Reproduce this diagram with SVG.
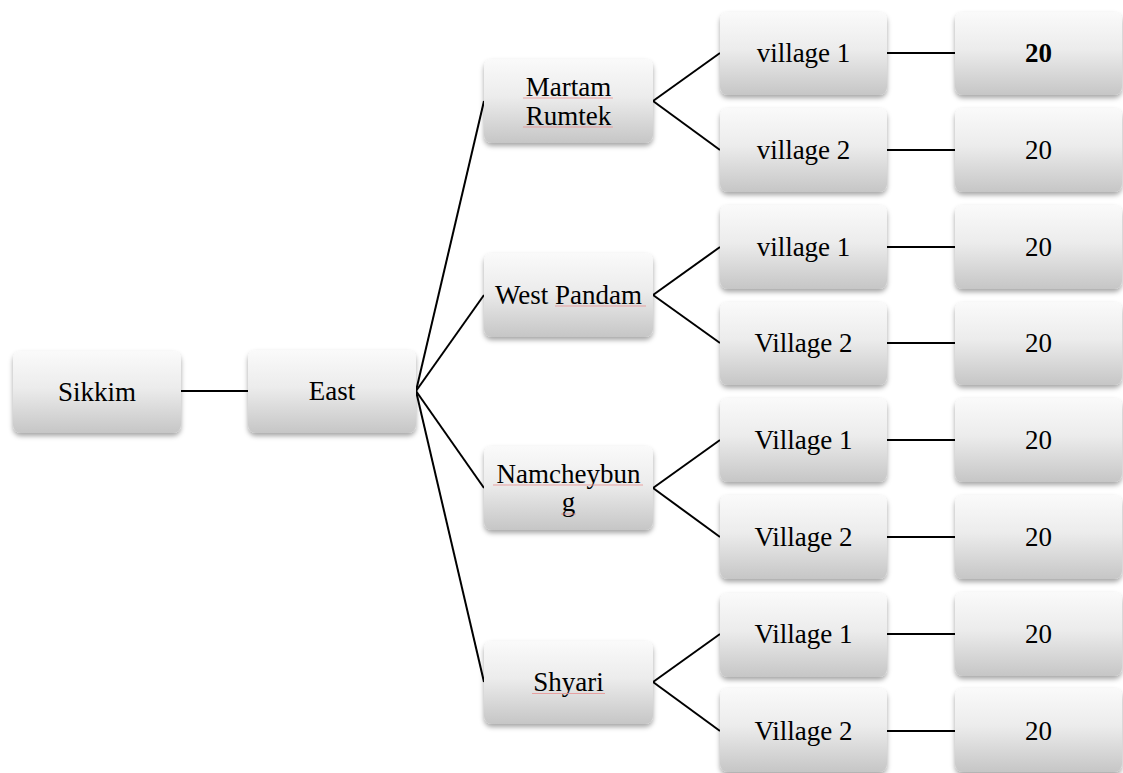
<svg xmlns="http://www.w3.org/2000/svg" width="1123" height="773" viewBox="0 0 1123 773">
<style>
.box{fill:url(#g);filter:url(#sh)}
text{font-family:'Liberation Serif','Times New Roman',Times,serif;font-size:27px;fill:#000;text-anchor:middle}
.b{font-weight:bold}
.c line{stroke:#000;stroke-width:2}
.sq{stroke:#e89090;stroke-width:1;fill:none;opacity:0.8}
</style>
<defs>
<linearGradient id="g" x1="0" y1="0" x2="0" y2="1">
<stop offset="0" stop-color="#fafafa"/>
<stop offset="0.45" stop-color="#ececec"/>
<stop offset="1" stop-color="#c6c6c6"/>
</linearGradient>
<filter id="sh" x="-10%" y="-10%" width="120%" height="130%">
<feDropShadow dx="0" dy="3" stdDeviation="2.5" flood-color="#000" flood-opacity="0.35"/>
</filter>
</defs>
<rect width="1123" height="773" fill="#fff"/>
<g class="c">
<line x1="181" y1="391" x2="248" y2="391"/>
<line x1="416" y1="391" x2="484" y2="101"/>
<line x1="416" y1="391" x2="484" y2="295"/>
<line x1="416" y1="391" x2="484" y2="488"/>
<line x1="416" y1="391" x2="484" y2="682"/>
<line x1="653" y1="101" x2="720" y2="53"/>
<line x1="653" y1="101" x2="720" y2="150"/>
<line x1="653" y1="295" x2="720" y2="247"/>
<line x1="653" y1="295" x2="720" y2="343"/>
<line x1="653" y1="488" x2="720" y2="440"/>
<line x1="653" y1="488" x2="720" y2="537"/>
<line x1="653" y1="682" x2="720" y2="634"/>
<line x1="653" y1="682" x2="720" y2="731"/>
<line x1="887" y1="53" x2="955" y2="53"/>
<line x1="887" y1="150" x2="955" y2="150"/>
<line x1="887" y1="247" x2="955" y2="247"/>
<line x1="887" y1="343" x2="955" y2="343"/>
<line x1="887" y1="440" x2="955" y2="440"/>
<line x1="887" y1="537" x2="955" y2="537"/>
<line x1="887" y1="634" x2="955" y2="634"/>
<line x1="887" y1="731" x2="955" y2="731"/>
</g>
<g font-family="Liberation Serif, serif" font-size="27">
<g id="sikkim"><rect class="box" x="13" y="351" width="168" height="82" rx="8"/><text x="97" y="401">Sikkim</text></g>
<g id="east"><rect class="box" x="248" y="350" width="168" height="83" rx="8"/><text x="332" y="400">East</text></g>
<g id="martam"><rect class="box" x="484" y="59" width="169" height="84" rx="8"/><text x="568.5" y="95.5">Martam</text><text x="568.5" y="124.5">Rumtek</text><line class="sq" x1="523" y1="98" x2="613" y2="98"/><line class="sq" x1="523" y1="127" x2="613" y2="127"/></g>
<g id="westpandam"><rect class="box" x="484" y="253" width="169" height="84" rx="8"/><text x="568.5" y="304">West Pandam</text><line class="sq" x1="555" y1="306" x2="646" y2="306"/></g>
<g id="namcheybung"><rect class="box" x="484" y="446" width="169" height="84" rx="8"/><text x="568.5" y="482.5">Namcheybun</text><text x="568.5" y="511">g</text><line class="sq" x1="493" y1="485" x2="643" y2="485"/><line class="sq" x1="561" y1="514" x2="576" y2="514"/></g>
<g id="shyari"><rect class="box" x="484" y="641" width="169" height="83" rx="8"/><text x="568.5" y="691">Shyari</text><line class="sq" x1="532" y1="693.5" x2="605" y2="693.5"/></g>
<g id="v1a"><rect class="box" x="720" y="12" width="167" height="83" rx="8"/><text x="803.5" y="62">village 1</text></g>
<g id="v2a"><rect class="box" x="720" y="108" width="167" height="84" rx="8"/><text x="803.5" y="159">village 2</text></g>
<g id="v1b"><rect class="box" x="720" y="205" width="167" height="84" rx="8"/><text x="803.5" y="256">village 1</text></g>
<g id="v2b"><rect class="box" x="720" y="302" width="167" height="83" rx="8"/><text x="803.5" y="352">Village 2</text></g>
<g id="v1c"><rect class="box" x="720" y="398" width="167" height="84" rx="8"/><text x="803.5" y="449">Village 1</text></g>
<g id="v2c"><rect class="box" x="720" y="495" width="167" height="84" rx="8"/><text x="803.5" y="546">Village 2</text></g>
<g id="v1d"><rect class="box" x="720" y="593" width="167" height="84" rx="8"/><text x="803.5" y="643">Village 1</text></g>
<g id="v2d"><rect class="box" x="720" y="688" width="167" height="84" rx="8"/><text x="803.5" y="740">Village 2</text></g>
<g id="n1"><rect class="box" x="955" y="12" width="167" height="83" rx="8"/><text class="b" x="1038.5" y="62">20</text></g>
<g id="n2"><rect class="box" x="955" y="108" width="167" height="84" rx="8"/><text x="1038.5" y="159">20</text></g>
<g id="n3"><rect class="box" x="955" y="205" width="167" height="84" rx="8"/><text x="1038.5" y="256">20</text></g>
<g id="n4"><rect class="box" x="955" y="302" width="167" height="83" rx="8"/><text x="1038.5" y="352">20</text></g>
<g id="n5"><rect class="box" x="955" y="398" width="167" height="84" rx="8"/><text x="1038.5" y="449">20</text></g>
<g id="n6"><rect class="box" x="955" y="495" width="167" height="84" rx="8"/><text x="1038.5" y="546">20</text></g>
<g id="n7"><rect class="box" x="955" y="592" width="167" height="84" rx="8"/><text x="1038.5" y="643">20</text></g>
<g id="n8"><rect class="box" x="955" y="688" width="167" height="84" rx="8"/><text x="1038.5" y="740">20</text></g>
</g>
</svg>
